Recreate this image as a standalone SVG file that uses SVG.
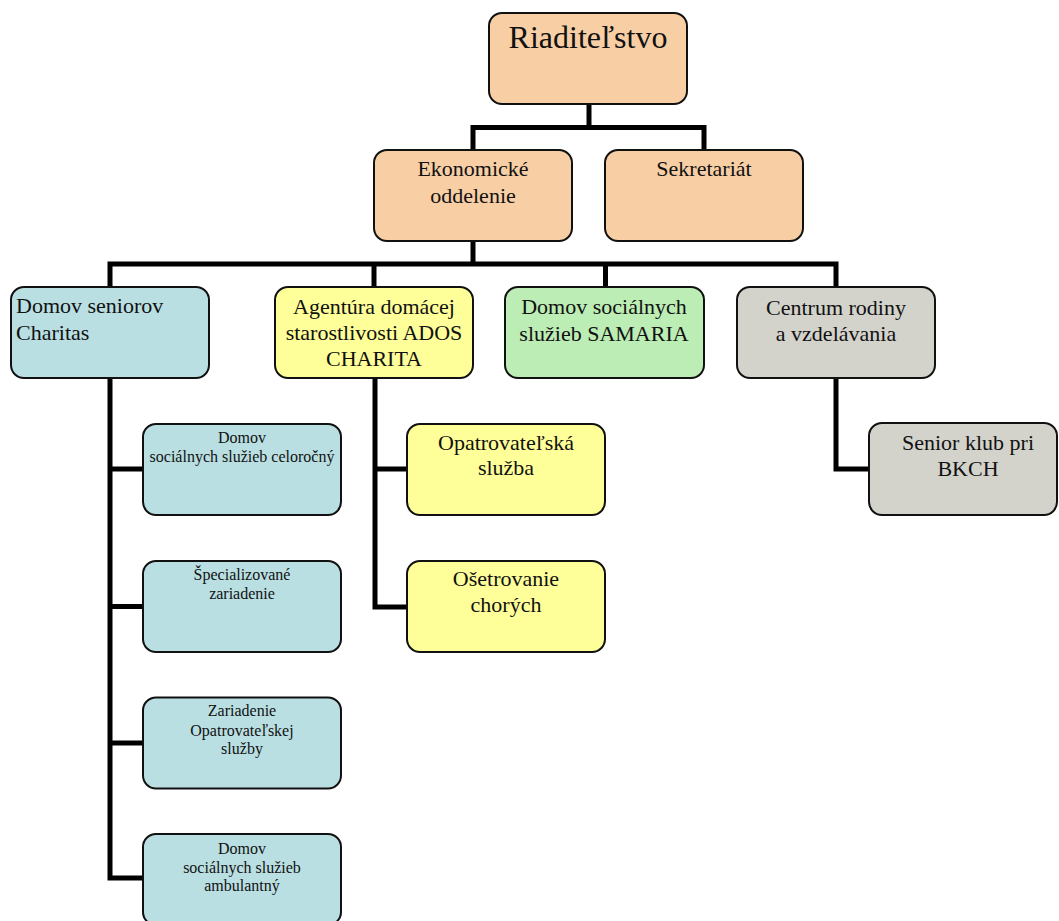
<svg xmlns="http://www.w3.org/2000/svg" width="1059" height="921" viewBox="0 0 1059 921">
<style>
.box{stroke:#111;stroke-width:2}
.peach{fill:#F8CFA5}
.blue{fill:#B9DFE2}
.yellow{fill:#FFFF99}
.green{fill:#BCEDB4}
.gray{fill:#D3D3CC}
text{font-family:"Liberation Serif","Times New Roman",serif;fill:#111}
.t{font-size:22px;text-anchor:middle}
.s{font-size:16px;text-anchor:middle}
.conn{fill:none;stroke:#000;stroke-width:5;stroke-linejoin:miter;stroke-linecap:butt}
</style>
<rect width="1059" height="921" fill="#fff"/>
<g id="connectors" class="conn">
<path d="M589 104V127.5"/>
<path d="M473 150V127.5H704V150"/>
<path d="M473 241V264"/>
<path d="M110 287V264H836V287"/>
<path d="M374 264V287"/>
<path d="M605.5 264V287"/>
<path d="M110 378V878H143"/>
<path d="M110 469H143"/>
<path d="M110 606.5H143"/>
<path d="M110 743H143"/>
<path d="M375 378V607H407"/>
<path d="M375 469H407"/>
<path d="M836 378V469H869"/>
</g>
<g id="riaditelstvo">
<rect class="box peach" x="489" y="13" width="198" height="91" rx="13"/>
<text x="588" y="48" style="font-size:32px;text-anchor:middle">Riaditeľstvo</text>
</g>
<g id="ekonomicke">
<rect class="box peach" x="374" y="150" width="198" height="91" rx="13"/>
<text class="t" x="473" y="176">Ekonomické</text>
<text class="t" x="473" y="203">oddelenie</text>
</g>
<g id="sekretariat">
<rect class="box peach" x="605" y="150" width="198" height="91" rx="13"/>
<text class="t" x="704" y="176">Sekretariát</text>
</g>
<g id="domov-seniorov">
<rect class="box blue" x="11" y="287" width="198" height="91" rx="13"/>
<text x="16" y="313" style="font-size:22px">Domov seniorov</text>
<text x="16" y="340" style="font-size:22px">Charitas</text>
</g>
<g id="ados">
<rect class="box yellow" x="275" y="287" width="198" height="91" rx="13"/>
<text class="t" x="374" y="313.5">Agentúra domácej</text>
<text class="t" x="374" y="340">starostlivosti ADOS</text>
<text class="t" x="374" y="366">CHARITA</text>
</g>
<g id="samaria">
<rect class="box green" x="505" y="287" width="199" height="91" rx="13"/>
<text class="t" x="604" y="314">Domov sociálnych</text>
<text class="t" x="604" y="341">služieb SAMARIA</text>
</g>
<g id="centrum">
<rect class="box gray" x="737" y="287" width="198" height="91" rx="13"/>
<text class="t" x="836" y="315">Centrum rodiny</text>
<text class="t" x="836" y="341">a vzdelávania</text>
</g>
<g id="dss-celorocny">
<rect class="box blue" x="143" y="424" width="198" height="91" rx="13"/>
<text class="s" x="242" y="443">Domov</text>
<text class="s" x="242" y="461.7">sociálnych služieb celoročný</text>
</g>
<g id="specializovane">
<rect class="box blue" x="143" y="561" width="198" height="91" rx="13"/>
<text class="s" x="242" y="580">Špecializované</text>
<text class="s" x="242" y="598.5">zariadenie</text>
</g>
<g id="zariadenie-os">
<rect class="box blue" x="143" y="697.5" width="198" height="91" rx="13"/>
<text class="s" x="242" y="716">Zariadenie</text>
<text class="s" x="242" y="735.5">Opatrovateľskej</text>
<text class="s" x="242" y="754">služby</text>
</g>
<g id="dss-ambulantny">
<rect class="box blue" x="143" y="834" width="198" height="91" rx="13"/>
<text class="s" x="242" y="854">Domov</text>
<text class="s" x="242" y="872.7">sociálnych služieb</text>
<text class="s" x="242" y="891">ambulantný</text>
</g>
<g id="opatrovatelska">
<rect class="box yellow" x="407" y="424" width="198" height="91" rx="13"/>
<text class="t" x="506" y="449.5">Opatrovateľská</text>
<text class="t" x="506" y="475">služba</text>
</g>
<g id="osetrovanie">
<rect class="box yellow" x="407" y="561" width="198" height="91" rx="13"/>
<text class="t" x="506" y="586">Ošetrovanie</text>
<text class="t" x="506" y="611.7">chorých</text>
</g>
<g id="senior-klub">
<rect class="box gray" x="869" y="423" width="188" height="92" rx="13"/>
<text class="t" x="968" y="450">Senior klub pri</text>
<text class="t" x="968" y="476">BKCH</text>
</g>
</svg>
